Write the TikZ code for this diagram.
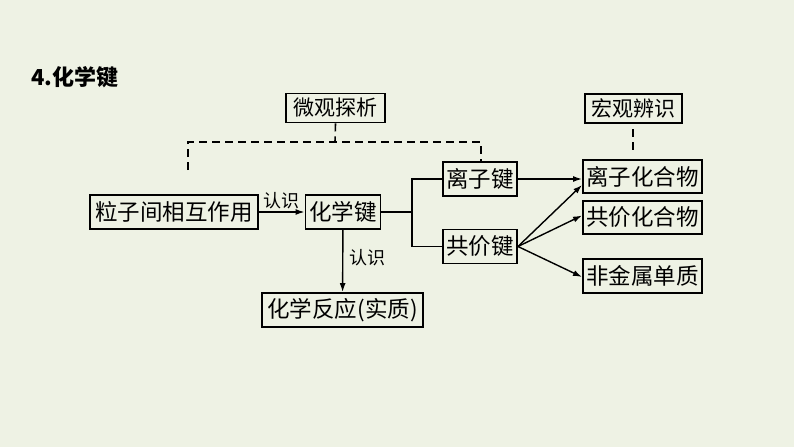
\documentclass[tikz,border=0pt]{standalone}
\usepackage{fontspec}
\newfontfamily\cjk{Noto Sans CJK SC}
\usetikzlibrary{arrows.meta}
\definecolor{bg}{RGB}{238,242,228}
\tikzset{
  bx/.style={draw=black, line width=1.9pt, inner sep=0pt, font=\cjk\fontsize{22.5}{24}\selectfont, text=black, anchor=center},
  tbx/.style={bx, font=\cjk\fontsize{21}{23}\selectfont},
  lbl/.style={inner sep=0pt, font=\cjk\fontsize{18}{20}\selectfont},
  con/.style={line width=1.4pt, draw=black},
  arr/.style={con, -{Latex[length=9pt,width=6pt]}},
  dsh/.style={line width=1.6pt, dash pattern=on 8pt off 5pt}
}
\begin{document}
\begin{tikzpicture}[x=1pt,y=-1pt]
\fill[bg] (0,0) rectangle (794,447);
\useasboundingbox (0,0) rectangle (794,447);
\node[inner sep=0pt, anchor=west, font=\cjk\bfseries\fontsize{22}{24}\selectfont] (title) at (31,77) {4.化学键};

\node[tbx, minimum width=99, minimum height=29] (wg) at (335.5,108) {微观探析};
\node[tbx, minimum width=97, minimum height=29] (hg) at (633.5,108.5) {宏观辨识};

\node[bx, minimum width=168, minimum height=34] (lz) at (174,212) {粒子间相互作用};
\node[bx, minimum width=75, minimum height=34] (hxj) at (343,212) {化学键};
\node[bx, minimum width=161, minimum height=34] (hxfy) at (342.5,310) {化学反应(实质)};
\node[bx, minimum width=74, minimum height=34] (lzj) at (480,179) {离子键};
\node[bx, minimum width=74, minimum height=34] (gjj) at (480,246.5) {共价键};
\node[bx, minimum width=119, minimum height=33] (lzhw) at (642.5,176.5) {离子化合物};
\node[bx, minimum width=119, minimum height=33] (gjhw) at (642.5,217.5) {共价化合物};
\node[bx, minimum width=119, minimum height=34] (fjs) at (642.5,276) {非金属单质};

\coordinate (dL) at (188,170);
\coordinate (dT) at (335,142);
\coordinate (sp) at (412,212);

% dashed links
\draw[dsh] (wg.south) -- (dT);
\draw[dsh] (dL) -- (188,142) -- (481,142) -- (lzj.north -| 481,0);
\draw[dsh] (633,129) -- (633,152);

% arrows
\draw[arr] (lz) -- node[lbl, above=2pt] {认识} (hxj);
\draw[arr] (hxj) -- node[lbl, right=6pt, pos=0.45] {认识} (hxfy);
\draw[con] (hxj.east) -- (sp);
\draw[con] (lzj.west) -| (sp) |- (gjj.west);
\draw[arr] (lzj.east) -- (lzhw.west |- lzj.east);
\draw[arr] (gjj.east) -- ([yshift=9pt]lzhw.south west);
\draw[arr] (gjj.east) -- ([yshift=2pt]gjhw.west);
\draw[arr] (gjj.east) -- ([yshift=-1pt]fjs.west);
\end{tikzpicture}
\end{document}
